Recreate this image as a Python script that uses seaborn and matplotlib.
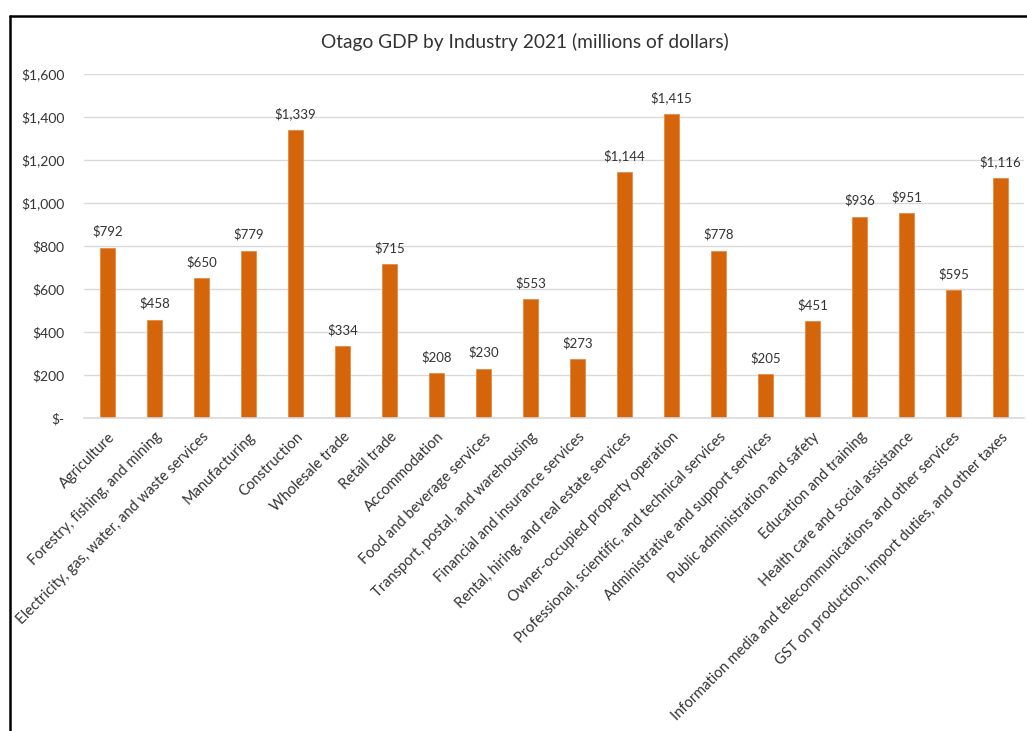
import matplotlib
matplotlib.use('Agg')
import matplotlib.pyplot as plt
import matplotlib.ticker as mticker
from matplotlib.lines import Line2D
import pandas as pd
import seaborn as sns

# Data (millions of dollars)
industries = [
    'Agriculture',
    'Forestry, fishing, and mining',
    'Electricity, gas, water, and waste services',
    'Manufacturing',
    'Construction',
    'Wholesale trade',
    'Retail trade',
    'Accommodation',
    'Food and beverage services',
    'Transport, postal, and warehousing',
    'Financial and insurance services',
    'Rental, hiring, and real estate services',
    'Owner-occupied property operation',
    'Professional, scientific, and technical services',
    'Administrative and support services',
    'Public administration and safety',
    'Education and training',
    'Health care and social assistance',
    'Information media and telecommunications and other services',
    'GST on production, import duties, and other taxes',
]
gdp = [792, 458, 650, 779, 1339, 334, 715, 208, 230, 553, 273, 1144, 1415,
       778, 205, 451, 936, 951, 595, 1116]
y_ticks = [0, 200, 400, 600, 800, 1000, 1200, 1400, 1600]

df = pd.DataFrame({'industry': industries, 'gdp': gdp})

sns.set_style('white')
plt.rcParams['font.family'] = ['Lato', 'DejaVu Sans']
text_col = '#333333'
bar_col = '#D4650B'

fig = plt.figure(figsize=(10.27, 7.31), dpi=100)
ax = fig.add_axes([0.0818, 0.428, 0.9152, 0.471])

sns.barplot(data=df, x='industry', y='gdp', color=bar_col, width=0.32,
            edgecolor='#E58A45', linewidth=0.6, saturation=1, ax=ax)

ax.set_ylim(0, 1600)
ax.set_yticks(y_ticks)
ax.yaxis.set_major_formatter(mticker.FuncFormatter(
    lambda v, p: '$-' if v == 0 else '${:,.0f}'.format(v)))
ax.grid(axis='y', color='#D9D9D9', linewidth=1)
ax.set_axisbelow(True)
for s in ['top', 'right', 'left']:
    ax.spines[s].set_visible(False)
ax.spines['bottom'].set_color('#D9D9D9')
ax.spines['bottom'].set_linewidth(1.2)
ax.tick_params(axis='both', length=0, colors=text_col, labelsize=10)
ax.tick_params(axis='y', pad=14)
ax.set_xlabel('')
ax.set_ylabel('')
ax.set_xlim(-0.5, len(industries) - 0.5)

ax.set_xticks(range(len(industries)))
ax.set_xticklabels(industries, rotation=45, ha='right', va='top',
                   rotation_mode='anchor', fontsize=10.5, color=text_col)
for lbl in ax.get_xticklabels():
    lbl.set_y(-0.02)

for cont in ax.containers:
    ax.bar_label(cont, labels=['${:,.0f}'.format(v) for v in gdp],
                 padding=7, fontsize=9.5, color=text_col)

fig.text(0.511, 0.942, 'Otago GDP by Industry 2021 (millions of dollars)',
         ha='center', va='center', fontsize=13.8, color=text_col)

# outer chart frame (only left and top edges visible in the crop)
fig.add_artist(Line2D([10 / 1027, 10 / 1027], [0, 1 - 16 / 731],
                      color='black', linewidth=1.8, transform=fig.transFigure))
fig.add_artist(Line2D([10 / 1027, 1], [1 - 16 / 731, 1 - 16 / 731],
                      color='black', linewidth=1.8, transform=fig.transFigure))

fig.savefig('out.png', dpi=100)
